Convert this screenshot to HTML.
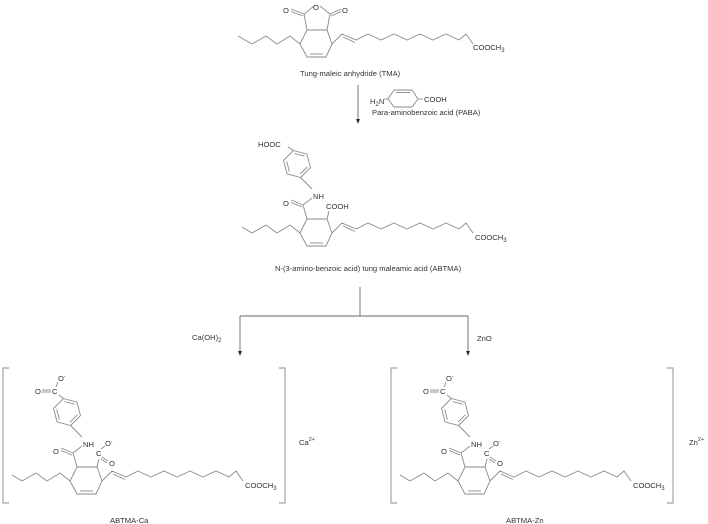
<!DOCTYPE html>
<html><head><meta charset="utf-8"><style>
html,body{margin:0;padding:0;background:#fff;}
svg{display:block;}
text{font-family:"Liberation Sans",sans-serif;font-size:7.6px;fill:#333;}
.l{stroke:#8a8a8a;stroke-width:0.9;fill:none;}
.a{stroke:#666;stroke-width:0.9;fill:none;}
</style></head><body>
<svg width="708" height="524" viewBox="0 0 708 524" xmlns="http://www.w3.org/2000/svg">

<!-- TOP: TMA -->
<g transform="translate(230,-437)">
<polygon class="l" points="70,481 77,467 97,467 102,481 96,494 77,494"/>
<line class="l" x1="80" y1="491" x2="93" y2="491"/>
<polyline class="l" points="70,481 60,473 47,481 36,473 22,481 8,473"/>
<polyline class="l" points="102,481 112,471 126,477 138,471 151,477 164,471 177,477 190,471 203,477 216,471 229,477 236,471 243,481"/>
<line class="l" x1="113" y1="474" x2="125" y2="479.5"/>
<text x="243" y="487">COOCH<tspan font-size="6" dy="2">3</tspan></text>
<polyline class="l" points="77,467 74,451 84,443"/>
<polyline class="l" points="97,467 100,451 90,443"/>
<line class="l" x1="74" y1="451" x2="61" y2="446"/>
<line class="l" x1="73" y1="453" x2="61" y2="448.5"/>
<line class="l" x1="100" y1="451" x2="111" y2="446"/>
<line class="l" x1="101" y1="453" x2="111" y2="448.5"/>
<text x="83" y="447">O</text>
<text x="53" y="450">O</text>
<text x="112" y="450">O</text>
</g>
<text x="300" y="76">Tung-maleic anhydride (TMA)</text>

<!-- arrow 1 -->
<line class="a" x1="358" y1="85" x2="358" y2="119"/>
<polygon points="356,119 360,119 358,124" fill="#333"/>
<text x="370" y="104">H<tspan font-size="6" dy="2">2</tspan><tspan dy="-2">N</tspan></text>
<polygon class="l" points="388,99 394,90 412,90 418,99 412,107 394,107"/>
<line class="l" x1="396" y1="92.5" x2="410" y2="92.5"/>
<line class="l" x1="384" y1="99" x2="388" y2="99"/>
<line class="l" x1="418" y1="99" x2="423" y2="99"/>
<text x="424" y="102">COOH</text>
<text x="372" y="115">Para-aminobenzoic acid (PABA)</text>

<!-- MIDDLE: ABTMA -->
<g transform="translate(230,-248)">
<polygon class="l" points="70,481 77,467 97,467 102,481 96,494 77,494"/>
<line class="l" x1="80" y1="491" x2="93" y2="491"/>
<polyline class="l" points="70,481 60,473 47,481 36,473 22,481 12,475"/>
<polyline class="l" points="102,481 112,471 126,477 138,471 151,477 164,471 177,477 190,471 203,477 216,471 229,477 236,471 243,481"/>
<line class="l" x1="113" y1="474" x2="125" y2="479.5"/>
<text x="245" y="488">COOCH<tspan font-size="6" dy="2">3</tspan></text>
<polygon class="l" points="63.4,398.5 76.9,402.1 80.5,415.6 70.6,425.5 57.1,421.9 53.5,408.4"/>
<line class="l" x1="64.5" y1="401.5" x2="74.5" y2="404.2"/>
<line class="l" x1="77.4" y1="414.8" x2="70" y2="422.2"/>
<line class="l" x1="59.4" y1="419.6" x2="56.7" y2="409.4"/>
<line class="l" x1="63.4" y1="398.5" x2="58" y2="395"/>
<text x="28" y="395">HOOC</text>
<line class="l" x1="70.6" y1="425.5" x2="82" y2="437"/>
<text x="83" y="447">NH</text>
<polyline class="l" points="77,467 73,453 82,446"/>
<line class="l" x1="73" y1="453" x2="61" y2="448"/>
<line class="l" x1="72" y1="455" x2="61" y2="450.5"/>
<text x="53" y="454">O</text>
<line class="l" x1="97" y1="467" x2="99" y2="459"/>
<text x="96" y="457">COOH</text>
</g>
<text x="275" y="271">N-(3-amino-benzoic acid) tung maleamic acid (ABTMA)</text>

<!-- branch -->
<line class="a" x1="360" y1="287" x2="360" y2="316"/>
<line class="a" x1="240" y1="316" x2="468" y2="316"/>
<line class="a" x1="240" y1="316" x2="240" y2="351"/>
<polygon points="238,351 242,351 240,356" fill="#333"/>
<line class="a" x1="468" y1="316" x2="468" y2="351"/>
<polygon points="466,351 470,351 468,356" fill="#333"/>
<text x="192" y="340">Ca(OH)<tspan font-size="6" dy="2">2</tspan></text>
<text x="477" y="341">ZnO</text>

<!-- SALT left -->
<g>
<path class="l" d="M9,368 H3 V503 H9"/>
<path class="l" d="M279,368 H285 V503 H279"/>
<polygon class="l" points="70,481 77,467 97,467 102,481 96,494 77,494"/>
<line class="l" x1="80" y1="491" x2="93" y2="491"/>
<polyline class="l" points="70,481 60,473 47,481 36,473 22,481 12,475"/>
<polyline class="l" points="102,481 112,471 126,477 138,471 151,477 164,471 177,477 190,471 203,477 216,471 229,477 236,471 243,481"/>
<line class="l" x1="113" y1="474" x2="125" y2="479.5"/>
<text x="245" y="488">COOCH<tspan font-size="6" dy="2">3</tspan></text>
<polygon class="l" points="63.4,398.5 76.9,402.1 80.5,415.6 70.6,425.5 57.1,421.9 53.5,408.4"/>
<line class="l" x1="64.5" y1="401.5" x2="74.5" y2="404.2"/>
<line class="l" x1="77.4" y1="414.8" x2="70" y2="422.2"/>
<line class="l" x1="59.4" y1="419.6" x2="56.7" y2="409.4"/>
<line class="l" x1="63.4" y1="398.5" x2="59" y2="395"/>
<text x="52" y="394">C</text>
<line class="l" x1="56" y1="387" x2="58" y2="382"/>
<text x="58" y="381">O<tspan font-size="5" dy="-3">-</tspan></text>
<text x="35" y="394">O</text>
<line class="l" x1="42" y1="390" x2="51" y2="390"/>
<line class="l" x1="42" y1="392" x2="51" y2="392"/>
<line class="l" x1="70.6" y1="425.5" x2="82" y2="437"/>
<text x="83" y="447">NH</text>
<polyline class="l" points="77,467 73,453 82,446"/>
<line class="l" x1="73" y1="453" x2="61" y2="448"/>
<line class="l" x1="72" y1="455" x2="61" y2="450.5"/>
<text x="53" y="454">O</text>
<line class="l" x1="97" y1="467" x2="99" y2="459"/>
<text x="96" y="456">C</text>
<line class="l" x1="101" y1="449" x2="105" y2="446"/>
<text x="105" y="446">O<tspan font-size="5" dy="-3">-</tspan></text>
<line class="l" x1="102" y1="457" x2="108" y2="461"/>
<line class="l" x1="101" y1="459" x2="107" y2="463"/>
<text x="109" y="466">O</text>
</g>
<text x="299" y="445">Ca<tspan font-size="5.5" dy="-4">2+</tspan></text>
<text x="110" y="523">ABTMA-Ca</text>

<!-- SALT right -->
<g transform="translate(388,0)">
<path class="l" d="M9,368 H3 V503 H9"/>
<path class="l" d="M279,368 H285 V503 H279"/>
<polygon class="l" points="70,481 77,467 97,467 102,481 96,494 77,494"/>
<line class="l" x1="80" y1="491" x2="93" y2="491"/>
<polyline class="l" points="70,481 60,473 47,481 36,473 22,481 12,475"/>
<polyline class="l" points="102,481 112,471 126,477 138,471 151,477 164,471 177,477 190,471 203,477 216,471 229,477 236,471 243,481"/>
<line class="l" x1="113" y1="474" x2="125" y2="479.5"/>
<text x="245" y="488">COOCH<tspan font-size="6" dy="2">3</tspan></text>
<polygon class="l" points="63.4,398.5 76.9,402.1 80.5,415.6 70.6,425.5 57.1,421.9 53.5,408.4"/>
<line class="l" x1="64.5" y1="401.5" x2="74.5" y2="404.2"/>
<line class="l" x1="77.4" y1="414.8" x2="70" y2="422.2"/>
<line class="l" x1="59.4" y1="419.6" x2="56.7" y2="409.4"/>
<line class="l" x1="63.4" y1="398.5" x2="59" y2="395"/>
<text x="52" y="394">C</text>
<line class="l" x1="56" y1="387" x2="58" y2="382"/>
<text x="58" y="381">O<tspan font-size="5" dy="-3">-</tspan></text>
<text x="35" y="394">O</text>
<line class="l" x1="42" y1="390" x2="51" y2="390"/>
<line class="l" x1="42" y1="392" x2="51" y2="392"/>
<line class="l" x1="70.6" y1="425.5" x2="82" y2="437"/>
<text x="83" y="447">NH</text>
<polyline class="l" points="77,467 73,453 82,446"/>
<line class="l" x1="73" y1="453" x2="61" y2="448"/>
<line class="l" x1="72" y1="455" x2="61" y2="450.5"/>
<text x="53" y="454">O</text>
<line class="l" x1="97" y1="467" x2="99" y2="459"/>
<text x="96" y="456">C</text>
<line class="l" x1="101" y1="449" x2="105" y2="446"/>
<text x="105" y="446">O<tspan font-size="5" dy="-3">-</tspan></text>
<line class="l" x1="102" y1="457" x2="108" y2="461"/>
<line class="l" x1="101" y1="459" x2="107" y2="463"/>
<text x="109" y="466">O</text>
</g>
<text x="689" y="445">Zn<tspan font-size="5.5" dy="-4">2+</tspan></text>
<text x="506" y="523">ABTMA-Zn</text>
</svg>
</body></html>
